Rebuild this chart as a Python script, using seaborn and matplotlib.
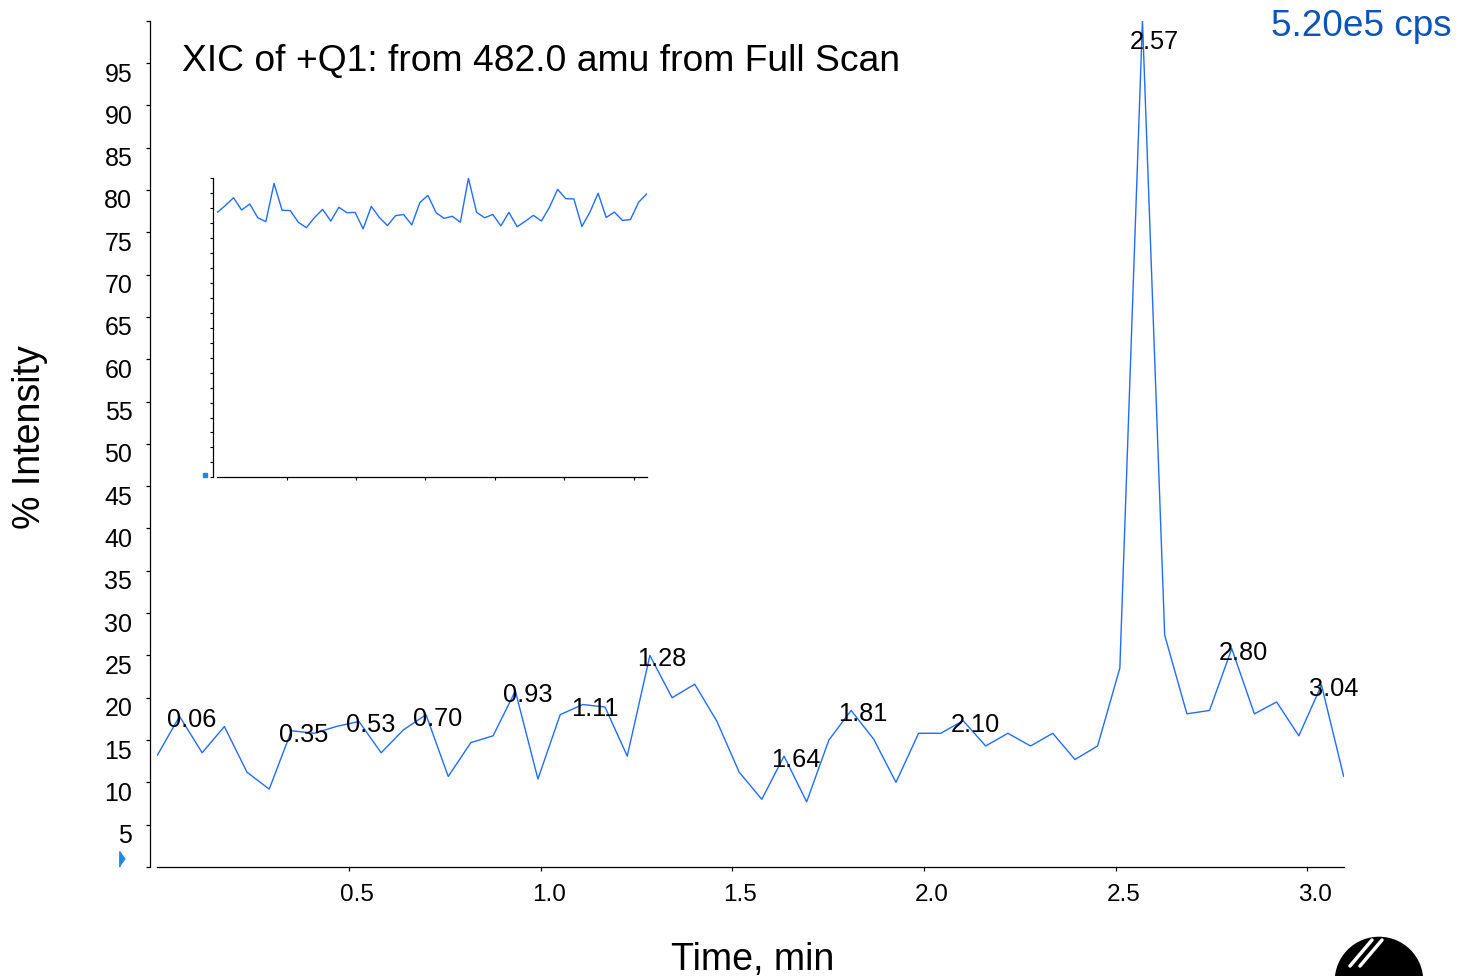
import numpy as np
import matplotlib
matplotlib.use("Agg")
import matplotlib.pyplot as plt
import seaborn as sns
from matplotlib import transforms
from matplotlib.patches import Circle
from matplotlib.lines import Line2D

# ---------------- data ----------------
time_min = [0.000, 0.058, 0.117, 0.175, 0.234, 0.292, 0.350, 0.409, 0.467, 0.526,
            0.584, 0.642, 0.701, 0.759, 0.818, 0.876, 0.934, 0.993, 1.051, 1.110,
            1.168, 1.226, 1.285, 1.343, 1.402, 1.460, 1.518, 1.577, 1.635, 1.694,
            1.752, 1.810, 1.869, 1.927, 1.986, 2.044, 2.102, 2.161, 2.219, 2.278,
            2.336, 2.394, 2.453, 2.511, 2.570, 2.628, 2.686, 2.745, 2.803, 2.862,
            2.920, 2.978, 3.037, 3.095]

intensity_pct = [13.2, 17.8, 13.5, 16.6, 11.2, 9.2, 16.1, 15.8, 16.6, 17.2,
                 13.5, 16.2, 18.0, 10.7, 14.7, 15.5, 20.8, 10.4, 18.0, 19.2,
                 18.9, 13.1, 25.0, 20.0, 21.6, 17.2, 11.2, 8.0, 13.1, 7.7,
                 15.0, 18.5, 15.1, 10.0, 15.8, 15.8, 17.3, 14.3, 15.8, 14.3,
                 15.8, 12.7, 14.3, 23.5, 100.0, 27.4, 18.1, 18.5, 25.8, 18.1,
                 19.5, 15.5, 21.5, 10.7]

inset_pct = [88.6, 90.9, 93.5, 89.4, 91.4, 86.8, 85.5, 98.3, 89.3, 89.2,
             85.3, 83.5, 86.9, 89.6, 85.7, 90.3, 88.5, 88.6, 83.1, 90.6,
             86.9, 84.2, 87.5, 87.9, 84.4, 91.9, 94.3, 88.5, 86.6, 87.3,
             85.3, 100.0, 88.6, 86.8, 87.9, 84.1, 88.6, 83.8, 85.6, 87.6,
             85.7, 90.3, 96.3, 93.2, 93.1, 83.9, 88.7, 95.0, 86.9, 88.7,
             85.9, 86.2, 92.0, 94.8]

peak_labels = ["0.06", "0.35", "0.53", "0.70", "0.93", "1.11", "1.28",
               "1.64", "1.81", "2.10", "2.57", "2.80", "3.04"]
peak_index = [1, 6, 9, 12, 16, 19, 22, 28, 31, 36, 44, 48, 52]

x_ticks = [0.5, 1.0, 1.5, 2.0, 2.5, 3.0]
x_ticklabels = ["0.5", "1.0", "1.5", "2.0", "2.5", "3.0"]
y_ticks = list(range(0, 101, 5))
y_ticklabels = ["" if v in (0, 100) else str(v) for v in y_ticks]

title_text = "XIC of +Q1: from 482.0 amu from Full Scan"
scale_text = "5.20e5 cps"
x_label = "Time, min"
y_label = "% Intensity"

# ---------------- style ----------------
sns.set_theme(style="ticks")
plt.rcParams["font.family"] = ["Liberation Sans", "DejaVu Sans"]
plt.rcParams["axes.edgecolor"] = "black"
plt.rcParams["xtick.color"] = "black"
plt.rcParams["ytick.color"] = "black"

W, H = 1470, 976
LINE = "#1f6dff"
fig = plt.figure(figsize=(W / 100, H / 100), dpi=100)
fig.patch.set_facecolor("white")

# main axes (pixel geometry converted to figure fractions)
x0, x1, y0, y1 = 157.3, 1343.7, 867.0, 20.7
ax = fig.add_axes([x0 / W, 1 - y0 / H, (x1 - x0) / W, (y0 - y1) / H])
ax.set_facecolor("none")
sns.lineplot(x=time_min, y=intensity_pct, ax=ax, color=LINE, linewidth=1.0,
             estimator=None, sort=False)
ax.set_xlim(0, 3.095)
ax.set_ylim(0, 100)
ax.set_xlabel("")
ax.set_ylabel("")
for s in ("top", "right"):
    ax.spines[s].set_visible(False)
ax.spines["left"].set_position(("outward", 5))
ax.spines["left"].set_linewidth(0.9)
ax.spines["bottom"].set_linewidth(0.9)
ax.set_xticks(x_ticks)
ax.set_xticklabels(x_ticklabels)
ax.set_yticks(y_ticks)
ax.set_yticklabels(y_ticklabels)
ax.tick_params(axis="y", direction="out", length=3, width=0.9, pad=10, labelsize=18)
ax.tick_params(axis="x", direction="out", length=3, width=0.9, pad=9, labelsize=17.5)
for lab in ax.get_yticklabels():
    lab.set_transform(lab.get_transform() +
                      transforms.ScaledTranslation(0, -0.09, fig.dpi_scale_trans))
for lab in ax.get_xticklabels():
    lab.set_transform(lab.get_transform() +
                      transforms.ScaledTranslation(0.08, 0, fig.dpi_scale_trans))

# peak labels
for txt, i in zip(peak_labels, peak_index):
    ya = min(intensity_pct[i], 97.96)
    ax.annotate(txt, (time_min[i], ya), xytext=(12, -11), textcoords="offset pixels",
                ha="center", va="baseline", fontsize=18.3, color="black",
                annotation_clip=False)

# small blue start marker left of the y axis
ax.plot([-0.092], [1.0], marker=[(-0.35, -1), (-0.35, 1), (0.35, 0)], ms=11,
        color="#1e88e5", clip_on=False, linestyle="none")

# inset
ix0, ix1, iy0, iy1 = 217.3, 646.7, 477.3, 178.3
axin = fig.add_axes([ix0 / W, 1 - iy0 / H, (ix1 - ix0) / W, (iy0 - iy1) / H])
axin.set_facecolor("none")
sns.lineplot(x=time_min, y=inset_pct, ax=axin, color=LINE, linewidth=1.0,
             estimator=None, sort=False)
axin.set_xlim(0, 3.095)
axin.set_ylim(0, 100)
axin.set_xlabel("")
axin.set_ylabel("")
for s in ("top", "right"):
    axin.spines[s].set_visible(False)
axin.spines["left"].set_position(("outward", 3))
axin.spines["left"].set_linewidth(0.9)
axin.spines["bottom"].set_linewidth(0.9)
axin.set_xticks(x_ticks)
axin.set_xticklabels([])
axin.set_yticks(y_ticks)
axin.set_yticklabels([])
axin.tick_params(axis="both", direction="out", length=2, width=0.8)
axin.plot([-0.089], [0.8], marker="s", ms=2.5, color="#1e88e5",
          clip_on=False, linestyle="none")

# texts
fig.text(182 / W, 1 - 71 / H, title_text, ha="left", va="baseline",
         fontsize=26.8, color="black")
fig.text(1271 / W, 1 - 36 / H, scale_text, ha="left", va="baseline",
         fontsize=26.6, color="#0b54b9")
fig.text(753 / W, 1 - 970 / H, x_label, ha="center", va="baseline",
         fontsize=27, color="black")
fig.text(30 / W, 1 - 437 / H, y_label, ha="center", va="center", rotation=90,
         fontsize=27, color="black")

# logo fragment (bottom-right)
logo = Circle((13.79, -0.05), 0.443, transform=fig.dpi_scale_trans,
              facecolor="black", edgecolor="none", zorder=5)
fig.patches.append(logo)
for (xa, ya_), (xb, yb) in [((13.50, 0.10), (13.72, 0.36)),
                            ((13.60, 0.10), (13.82, 0.36))]:
    ln = Line2D([xa, xb], [ya_, yb], transform=fig.dpi_scale_trans,
                color="white", linewidth=2.5, zorder=6)
    ln.set_clip_path(logo)
    fig.lines.append(ln)

fig.savefig("out.png", dpi=100, facecolor="white")
